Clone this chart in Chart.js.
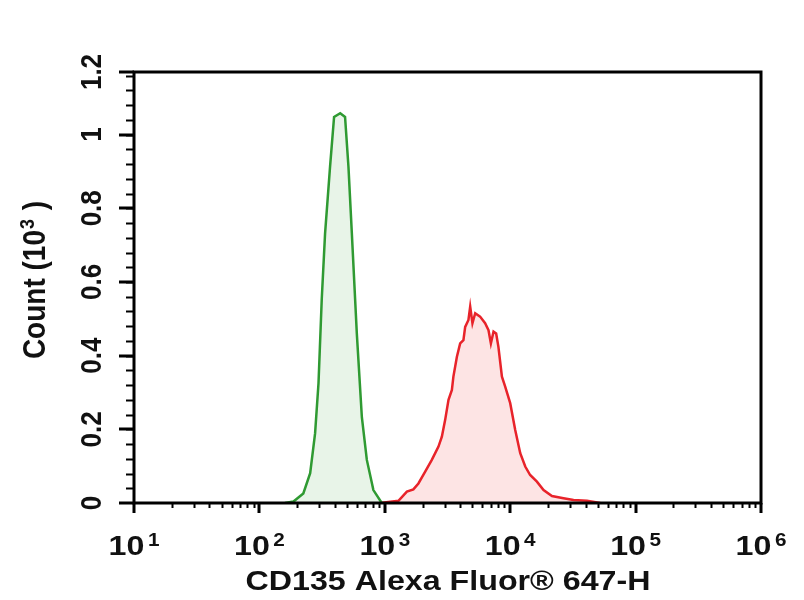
<!DOCTYPE html>
<html>
<head>
<meta charset="utf-8">
<script src="https://cdn.jsdelivr.net/npm/chart.js@4.4.1/dist/chart.umd.min.js"></script>
<style>
  html, body { margin:0; padding:0; background:#fff; }
  #wrap { width:804px; height:600px; }
</style>
</head>
<body>
<div id="wrap"><canvas id="ch" width="804" height="600"></canvas></div>
<script>
'use strict';
/* ── data: fluorescence (linear units) vs count (10^3) ── */
// control (green)
const ctrlX = [160, 187, 224, 254, 278, 296, 314, 334, 366, 394, 441, 482, 513, 546, 598, 656, 719, 811, 946];
const ctrlY = [0, 0.004, 0.026, 0.081, 0.189, 0.325, 0.551, 0.732, 0.913, 1.048, 1.058, 1.048, 0.913, 0.732, 0.461, 0.234, 0.117, 0.035, 0];
// stained (red)
const stainX = [918, 1285, 1500, 1690, 1854, 2099, 2371, 2679, 2851, 3027, 3221, 3428, 3524, 3758, 3990, 4236, 4375, 4645, 4797,
                5000, 5260, 5754, 6310, 6714, 7015, 7362, 7727, 8054, 8590, 9120, 10000, 10965, 12023, 13183, 14421,
                16331, 18450, 21528, 26607, 31989, 40926, 52240];
const stainY = [0, 0.006, 0.031, 0.037, 0.053, 0.085, 0.117, 0.153, 0.180, 0.225, 0.280, 0.307, 0.343, 0.397, 0.433, 0.442, 0.478, 0.497, 0.533,
                0.488, 0.515, 0.506, 0.488, 0.469, 0.433, 0.465, 0.460, 0.424, 0.343, 0.316, 0.271, 0.198, 0.135, 0.099, 0.076,
                0.058, 0.035, 0.019, 0.013, 0.008, 0.006, 0];

const xDecades    = [1, 2, 3, 4, 5, 6];
const yTickVals   = [0, 0.2, 0.4, 0.6, 0.8, 1, 1.17];
const yTickLabels = ['0', '0.2', '0.4', '0.6', '0.8', '1', '1.2'];
const yMinorStep  = 0.04;
const xTitle = 'CD135 Alexa Fluor® 647-H';
const yTitle = ['Count (10', '3', ' )'];

const FONT = '"Liberation Sans", Arial, sans-serif';
const SX = 1.15;   // source picture is stretched sideways
const INK = '#111';

const pts = (xs, ys) => xs.map((x, i) => ({ x, y: ys[i] }));

function stretchText(ctx, s, x, y, size, align) {
  ctx.save();
  ctx.font = `bold ${size}px ${FONT}`;
  ctx.translate(x, y);
  ctx.scale(SX, 1);
  ctx.textAlign = align || 'left';
  ctx.textBaseline = 'alphabetic';
  ctx.fillText(s, 0, 0);
  ctx.restore();
}

const axesPlugin = {
  id: 'flowAxes',
  afterDatasetsDraw(chart) {
    const { ctx, chartArea: a, scales: { x: xs, y: ys } } = chart;
    ctx.save();
    ctx.strokeStyle = '#000';
    ctx.fillStyle = INK;

    // y minor ticks
    ctx.lineWidth = 2;
    ctx.beginPath();
    for (let v = yMinorStep; v < ys.max; v += yMinorStep) {
      const p = Math.round(ys.getPixelForValue(v)) + 0.5;
      ctx.moveTo(a.left - 8, p); ctx.lineTo(a.left, p);
    }
    // x minor ticks
    for (let d = xDecades[0]; d < xDecades[xDecades.length - 1]; d++) {
      for (let k = 2; k <= 9; k++) {
        const p = Math.round(xs.getPixelForValue(k * 10 ** d)) + 0.5;
        ctx.moveTo(p, a.bottom); ctx.lineTo(p, a.bottom + 5);
      }
    }
    ctx.stroke();

    // major ticks
    ctx.lineWidth = 3;
    ctx.beginPath();
    yTickVals.forEach(v => {
      const p = Math.round(ys.getPixelForValue(v));
      ctx.moveTo(a.left - 15, p); ctx.lineTo(a.left, p);
    });
    xDecades.forEach(n => {
      const p = Math.round(xs.getPixelForValue(10 ** n));
      ctx.moveTo(p, a.bottom); ctx.lineTo(p, a.bottom + 10);
    });
    ctx.stroke();

    // frame
    ctx.strokeRect(a.left, a.top, a.right - a.left, a.bottom - a.top);

    // y tick labels, rotated
    yTickVals.forEach((v, i) => {
      const p = ys.getPixelForValue(v);
      ctx.save();
      ctx.font = `bold 26px ${FONT}`;
      ctx.translate(a.left - 33, p);
      ctx.scale(SX, 1);
      ctx.rotate(-Math.PI / 2);
      ctx.textAlign = 'center';
      ctx.fillText(yTickLabels[i], 0, 0);
      ctx.restore();
    });

    // x tick labels 10^n
    xDecades.forEach(n => {
      const p = xs.getPixelForValue(10 ** n);
      ctx.font = `bold 28px ${FONT}`;
      const wBase = ctx.measureText('10').width;
      ctx.font = `bold 18px ${FONT}`;
      const wExp = ctx.measureText(String(n)).width;
      const w = (wBase + 3 + wExp) * SX;
      const x0 = p - w / 2;
      stretchText(ctx, '10', x0, 555, 28);
      stretchText(ctx, String(n), x0 + (wBase + 3) * SX, 546, 18);
    });

    // x title
    stretchText(ctx, xTitle, 448, 590, 28, 'center');

    // y title with superscript
    ctx.save();
    ctx.translate(45, 280);
    ctx.scale(SX, 1);
    ctx.rotate(-Math.PI / 2);
    ctx.font = `bold 28px ${FONT}`;
    const w1 = ctx.measureText(yTitle[0]).width;
    const w3 = ctx.measureText(yTitle[2]).width;
    ctx.font = `bold 18px ${FONT}`;
    const w2 = ctx.measureText(yTitle[1]).width;
    let cx = -(w1 + w2 + 2 + w3) / 2;
    ctx.font = `bold 28px ${FONT}`;
    ctx.fillText(yTitle[0], cx, 0);
    cx += w1 + 1;
    ctx.font = `bold 18px ${FONT}`;
    ctx.fillText(yTitle[1], cx, -10);
    cx += w2 + 1;
    ctx.font = `bold 28px ${FONT}`;
    ctx.fillText(yTitle[2], cx, 0);
    ctx.restore();

    ctx.restore();
  }
};

new Chart(document.getElementById('ch'), {
  type: 'line',
  data: {
    datasets: [
      { label: 'Control', data: pts(ctrlX, ctrlY), borderColor: '#2f9a32', backgroundColor: 'rgba(120,190,120,0.17)',
        borderWidth: 2.5, pointRadius: 0, tension: 0, fill: 'origin' },
      { label: 'CD135', data: pts(stainX, stainY), borderColor: '#e8232a', backgroundColor: 'rgba(245,120,120,0.2)',
        borderWidth: 2.5, pointRadius: 0, tension: 0, fill: 'origin' }
    ]
  },
  options: {
    responsive: false,
    animation: false,
    layout: { padding: { left: 134, right: 43, top: 72, bottom: 97 } },
    plugins: { legend: { display: false }, tooltip: { enabled: false } },
    scales: {
      x: { type: 'logarithmic', min: 10, max: 1e6, display: false },
      y: { type: 'linear', min: 0, max: 1.17, display: false }
    }
  },
  plugins: [axesPlugin]
});
</script>
</body>
</html>
